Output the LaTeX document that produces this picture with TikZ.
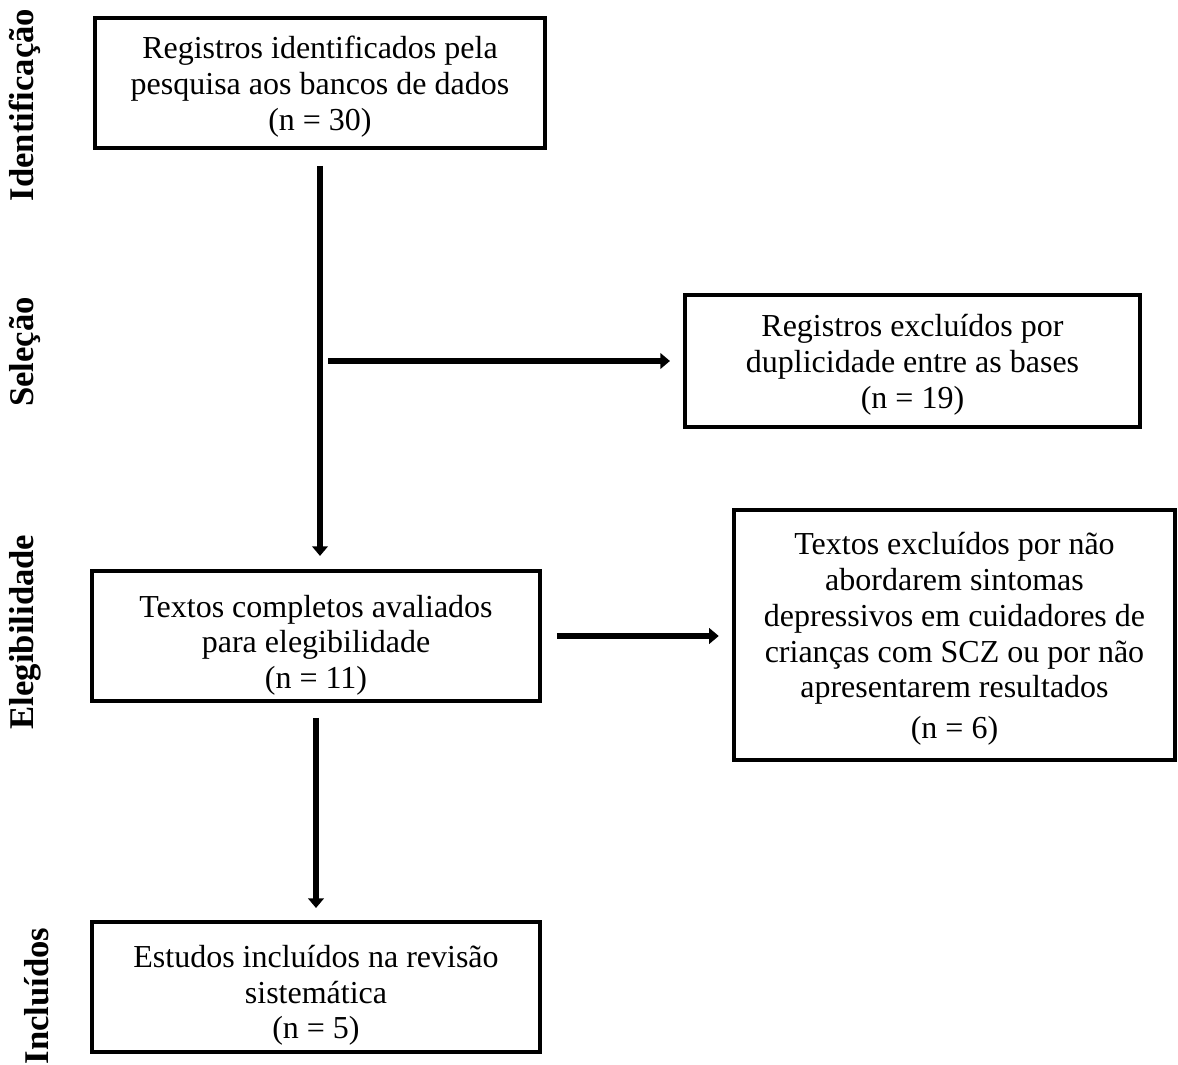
\documentclass[tikz,border=0pt]{standalone}
\usepackage{fontspec}
\setmainfont{Liberation Serif}
\usepackage{tikz}
\usetikzlibrary{arrows.meta,positioning,calc}
\definecolor{fcedge}{RGB}{0,0,0}
\tikzset{
  fcbox/.style={
    draw=fcedge, line width=1.5pt, inner sep=0pt, minimum width=168pt
  },
  fctext/.style={align=center, inner sep=0pt, font=\fontsize{12}{13.4}\selectfont},
  stagelbl/.style={rotate=90, inner sep=0pt, font=\fontsize{13}{15}\selectfont\bfseries},
  arr/.style={-{Triangle[length=3.6pt,width=5.8pt]}, draw=fcedge, line width=2.3pt},
  every picture/.append style={line join=miter}
}
\begin{document}
\begin{tikzpicture}[x=0.375pt, y=-0.375pt]
  \useasboundingbox (0,0) rectangle (1178,1065);
  % stages
  \node[stagelbl] (sid) at (25,105) {Identificação};
  \node[stagelbl] (ssel) at (25,352) {Seleção};
  \node[stagelbl] (sele) at (25,632) {Elegibilidade};
  \node[stagelbl] (sinc) at (37,996) {Incluídos};
  % boxes
  \node[fcbox, minimum width=168.75pt, minimum height=48.75pt,
    label={[fctext, yshift=-1.4pt]center:{Registros identificados pela\\pesquisa aos bancos de dados\\(n = 30)}}]
    (id) at (320,83) {};
  \node[fcbox, minimum width=170.6pt, minimum height=49.5pt,
    label={[fctext, yshift=-1.4pt]center:{Registros excluídos por\\duplicidade entre as bases\\(n = 19)}}]
    (dup) at (912.5,361) {};
  \node[fcbox, minimum height=48.75pt,
    label={[fctext, yshift=-3.4pt]center:{Textos completos avaliados\\para elegibilidade\\(n = 11)}}]
    (txt) at (316,636) {};
  \node[fcbox, minimum width=165.5pt, minimum height=93.5pt,
    label={[fctext, yshift=-1.6pt]center:{Textos excluídos por não\\abordarem sintomas\\depressivos em cuidadores de\\crianças com SCZ ou por não\\apresentarem resultados\\[2pt](n = 6)}}]
    (exc) at (954.5,635) {};
  \node[fcbox, minimum height=48.75pt,
    label={[fctext, yshift=-3.2pt]center:{Estudos incluídos na revisão\\sistemática\\(n = 5)}}]
    (inc) at (316,987) {};
  \coordinate (jn) at (id.south |- dup.west);
  % arrows
  \draw[arr, shorten <=6pt, shorten >=4.9pt] (id.south) -- (id.south |- txt.north);
  \draw[arr, shorten <=3pt, shorten >=4.9pt] (jn) -- (dup.west);
  \draw[arr, shorten <=5.6pt, shorten >=4.9pt] (txt.east) -- (txt.east -| exc.west);
  \draw[arr, shorten <=5.6pt, shorten >=4.5pt] (txt.south) -- (inc.north);
\end{tikzpicture}
\end{document}
